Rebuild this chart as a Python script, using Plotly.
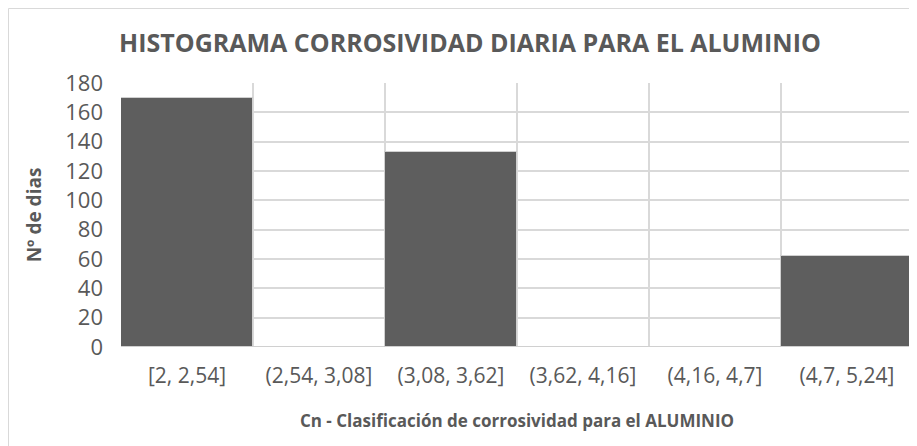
import plotly.graph_objects as go

categorias = ["[2, 2,54]", "(2,54, 3,08]", "(3,08, 3,62]", "(3,62, 4,16]", "(4,16, 4,7]", "(4,7, 5,24]"]
dias = [170, 0, 133, 0, 0, 62]

# la pagina deja 8px de margen, el grafico empieza en (8, 8)
OFF = 8
W, H = 917 - OFF, 446 - OFF
L, R, T = 121 - OFF, 4, 83 - OFF
B = H - (347 - OFF)
pw = W - L - R
ph = H - T - B

gris = "#595959"
fuente = "'Open Sans', Lato, sans-serif"

fig = go.Figure()
fig.add_bar(
    x=categorias,
    y=dias,
    marker=dict(color="#5e5e5e", line=dict(color="#d0d0d0", width=1)),
    xaxis="x",
    yaxis="y",
)
# eje auxiliar para las lineas verticales entre categorias
fig.add_scatter(x=[-0.5, 5.5], y=[0, 0], mode="none", xaxis="x2", yaxis="y",
                showlegend=False, hoverinfo="skip")

fig.update_layout(
    width=W,
    height=H,
    margin=dict(l=L, r=R, t=T, b=B, autoexpand=False),
    paper_bgcolor="white",
    plot_bgcolor="white",
    showlegend=False,
    bargap=0,
    font=dict(family=fuente, color=gris),
    title=dict(
        text="<b>HISTOGRAMA CORROSIVIDAD DIARIA PARA EL ALUMINIO</b>",
        x=(470 - OFF - L) / pw, xref="paper", xanchor="center",
        y=1 - (43 - OFF) / H, yanchor="middle",
        font=dict(size=25, color=gris),
    ),
    xaxis=dict(
        type="category",
        range=[-0.5, 5.5],
        automargin=False,
        showgrid=False,
        showline=False,
        ticks="",
        tickfont=dict(size=21, color=gris),
        ticklabelstandoff=14,
        title=dict(text="<b>Cn - Clasificación de corrosividad para el ALUMINIO</b>",
                   font=dict(size=17, color=gris), standoff=27),
    ),
    xaxis2=dict(
        overlaying="x",
        range=[-0.5, 5.5],
        tick0=-0.5,
        dtick=1,
        automargin=False,
        showgrid=True,
        gridcolor="#d9d9d9",
        gridwidth=1.5,
        showticklabels=False,
        zeroline=False,
        layer="below traces",
    ),
    yaxis=dict(
        range=[0, 180],
        dtick=20,
        automargin=False,
        showgrid=True,
        gridcolor="#d9d9d9",
        gridwidth=1.5,
        zeroline=False,
        showline=False,
        tickfont=dict(size=22, color=gris),
        ticklabelstandoff=17,
        title=dict(text="<b>Nº de dias</b>", font=dict(size=19, color=gris), standoff=18),
    ),
)

fig.add_shape(
    type="rect", xref="paper", yref="paper",
    x0=(0.5 - L) / pw, x1=(W + 20 - L) / pw,
    y0=1 - (H + 20 - T) / ph, y1=1 - (0.5 - T) / ph,
    line=dict(color="#d9d9d9", width=1), layer="below",
)

fig.write_html("out.html")
